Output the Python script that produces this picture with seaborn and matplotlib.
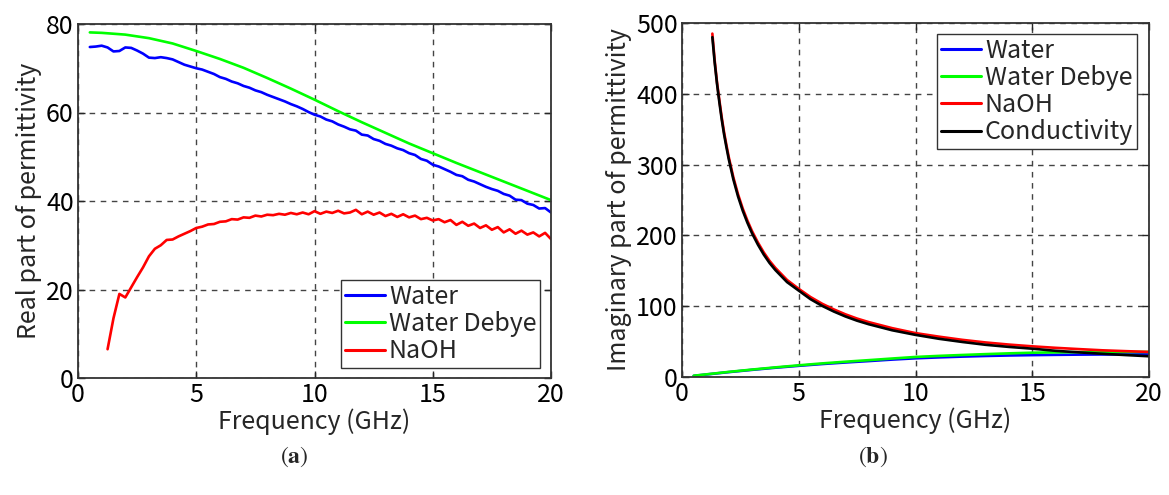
import numpy as np
import pandas as pd
import matplotlib
matplotlib.use("Agg")
import matplotlib.pyplot as plt
import seaborn as sns
from matplotlib import font_manager

# ---------------- data ----------------
freq_water_meas = np.round(np.arange(0.5, 20.001, 0.25), 2)
water_real = [
    74.8, 74.9, 75.1, 74.7, 73.8, 73.9, 74.7, 74.6,
    74.0, 73.3, 72.4, 72.3, 72.5, 72.3, 72.0, 71.4,
    70.8, 70.4, 70.0, 69.7, 69.2, 68.7, 68.0, 67.6,
    67.0, 66.6, 66.0, 65.6, 65.0, 64.6, 64.0, 63.5,
    63.0, 62.5, 61.9, 61.4, 60.8, 60.1, 59.5, 59.1,
    58.4, 58.0, 57.3, 56.8, 56.2, 55.9, 55.0, 54.8,
    54.0, 53.6, 52.9, 52.5, 51.9, 51.5, 50.8, 50.4,
    49.5, 49.1, 48.2, 47.8, 47.2, 46.6, 45.9, 45.6,
    44.8, 44.4, 43.8, 43.2, 42.7, 42.3, 41.6, 41.2,
    40.3, 40.2, 39.4, 39.1, 38.3, 38.4, 37.4]

freq_naoh_meas = np.round(np.arange(1.25, 20.001, 0.25), 2)
naoh_real = [
    6.5, 13.5, 19.0, 18.2, 20.5, 22.8, 25.0, 27.5,
    29.2, 30.0, 31.2, 31.3, 32.0, 32.6, 33.2, 33.9,
    34.2, 34.7, 34.8, 35.3, 35.4, 35.9, 35.8, 36.3,
    36.2, 36.7, 36.5, 36.9, 36.8, 37.1, 36.9, 37.3,
    37.0, 37.4, 37.0, 37.7, 37.1, 37.6, 37.3, 37.8,
    37.2, 37.4, 38.0, 37.0, 37.6, 36.9, 37.4, 36.6,
    37.1, 36.4, 37.0, 36.3, 36.7, 35.9, 36.2, 35.6,
    35.9, 35.2, 35.7, 34.6, 35.3, 34.4, 34.9, 33.9,
    34.5, 33.5, 34.1, 32.9, 33.6, 32.6, 33.3, 32.4,
    32.9, 32.0, 32.8, 31.4]

freq_debye = [0.5, 1, 2, 3, 4, 5, 6, 7, 8, 9, 10,
              11, 12, 13, 14, 15, 16, 17, 18, 19, 20]
debye_real = [78.1, 78.0, 77.6, 76.8, 75.6, 73.9, 72.1, 70.1, 67.8, 65.4, 62.9,
              60.3, 57.8, 55.4, 53.0, 50.8, 48.6, 46.5, 44.4, 42.3, 40.2]
debye_imag = [1.8, 3.6, 7.2, 10.5, 13.6, 16.5, 19.2, 21.6, 23.8, 26.1, 28.3,
              29.8, 31.1, 32.3, 33.4, 34.3, 34.8, 35.1, 35.3, 35.4, 35.4]
water_imag = [1.6, 3.4, 6.9, 10.1, 13.1, 15.8, 18.3, 20.5, 22.5, 24.6, 26.4,
              27.7, 28.8, 29.7, 30.4, 30.9, 31.3, 31.6, 31.8, 31.9, 32.0]

freq_cond = [1.3, 1.4, 1.5, 1.6, 1.7, 1.8, 1.9, 2.0,
             2.2, 2.4, 2.6, 2.8, 3.0,
             3.25, 3.5, 3.75, 4.0,
             4.5, 5.0, 5.5, 6.0, 6.5, 7.0, 7.5, 8.0,
             9, 10, 11, 12, 13, 14, 15, 16, 17, 18, 19, 20]
cond_imag = [480, 444, 414, 388, 364, 343, 325, 308,
             279, 255, 235, 218, 203,
             187, 173, 161, 151,
             134, 122, 110, 100.5, 92.5, 85.5, 79.5, 74.5,
             66, 59.5, 54, 49.5, 45.5, 42.5, 40, 37, 34.8, 32.8, 31, 29.3]
naoh_imag = [485, 447, 416, 391, 367, 346, 328, 311,
             282, 258, 238, 221, 206,
             190, 176, 164, 154,
             137, 124.5, 113, 103.5, 95.5, 88.5, 82.5, 77.5,
             69, 62, 57, 52.5, 48.8, 45.8, 43.3, 41.2, 39.4, 37.7, 36.5, 35.4]

x_ticks = [0, 5, 10, 15, 20]
y_ticks_a = [0, 20, 40, 60, 80]
y_ticks_b = [0, 100, 200, 300, 400, 500]

# ---------------- style ----------------
sns.set_style("ticks")
names = {f.name for f in font_manager.fontManager.ttflist}
main_font = "Liberation Sans Narrow" if "Liberation Sans Narrow" in names else "Noto Sans CJK JP"
FONT = [main_font, "DejaVu Sans"]
plt.rcParams["font.family"] = FONT
plt.rcParams["mathtext.fontset"] = "stix"

FS = 20 if main_font == "Liberation Sans Narrow" else 18
C_BLUE, C_GREEN, C_RED, C_BLACK = "#0000ff", "#00ff00", "#ff0000", "#000000"
LW = 1.9

fig = plt.figure(figsize=(11.69, 4.95), dpi=100)
ax1 = fig.add_axes([78 / 1169, (495 - 378) / 495, 473 / 1169, 354 / 495])
ax2 = fig.add_axes([682 / 1169, (495 - 377) / 495, 467 / 1169, 354 / 495])

sns.lineplot(x=freq_water_meas, y=water_real, ax=ax1, color=C_BLUE, lw=LW,
             label="Water", estimator=None, sort=False)
sns.lineplot(x=freq_debye, y=debye_real, ax=ax1, color=C_GREEN, lw=LW,
             label="Water Debye", estimator=None, sort=False)
sns.lineplot(x=freq_naoh_meas, y=naoh_real, ax=ax1, color=C_RED, lw=LW,
             label="NaOH", estimator=None, sort=False)

sns.lineplot(x=freq_debye, y=water_imag, ax=ax2, color=C_BLUE, lw=LW,
             label="Water", estimator=None, sort=False)
sns.lineplot(x=freq_debye, y=debye_imag, ax=ax2, color=C_GREEN, lw=LW,
             label="Water Debye", estimator=None, sort=False)
sns.lineplot(x=freq_cond, y=naoh_imag, ax=ax2, color=C_RED, lw=LW,
             label="NaOH", estimator=None, sort=False)
sns.lineplot(x=freq_cond, y=cond_imag, ax=ax2, color=C_BLACK, lw=LW,
             label="Conductivity", estimator=None, sort=False)

for ax, yt, ylab in [(ax1, y_ticks_a, "Real part of permittivity"),
                     (ax2, y_ticks_b, "Imaginary part of permittivity")]:
    ax.set_xlim(0, 20)
    ax.set_ylim(yt[0], yt[-1])
    ax.set_xticks(x_ticks)
    ax.set_yticks(yt)
    ax.tick_params(direction="in", length=5, width=1, colors="#262626",
                   labelsize=FS, top=True, right=True, pad=3)
    ax.tick_params(labelcolor="black")
    ax.grid(True, color="#444444", linestyle=(0, (4, 4)), linewidth=1)
    for sp in ax.spines.values():
        sp.set_color("#333333")
        sp.set_linewidth(1.3)
    ax.set_xlabel("Frequency (GHz)", fontsize=FS, labelpad=0)
    ax.set_ylabel(ylab, fontsize=FS, labelpad=3)

leg_kw = dict(fontsize=FS, frameon=True, fancybox=False, borderaxespad=0,
              handlelength=1.6, handletextpad=0.15, labelspacing=0.05,
              borderpad=0.15, edgecolor="#333333", framealpha=1)
l1 = ax1.legend(loc="lower right", bbox_to_anchor=(0.977, 0.028), **leg_kw)
l2 = ax2.legend(loc="upper right", bbox_to_anchor=(0.974, 0.969), **leg_kw)
for lg in (l1, l2):
    lg.get_frame().set_linewidth(1.0)
    for h in lg.get_lines():
        h.set_linewidth(2.2)

fig.text(294 / 1169, 1 - 457 / 495, r"$(\mathbf{a})$", ha="center", va="center", fontsize=17)
fig.text(873 / 1169, 1 - 457 / 495, r"$(\mathbf{b})$", ha="center", va="center", fontsize=17)

fig.savefig("out.png", dpi=100)
